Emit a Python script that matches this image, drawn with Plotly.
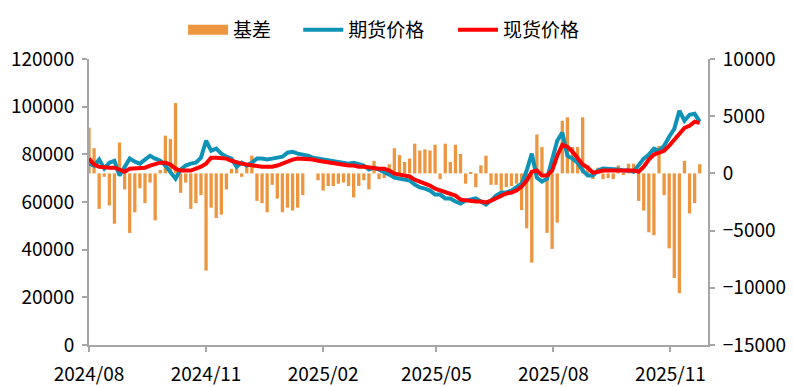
import pandas as pd
import plotly.graph_objects as go

# ---- data (sampled every 4 calendar days from 2024-08-01) ----
start_date = "2024-08-01"
step = "4D"

spot = [78200, 75700, 74800, 74400, 74400, 74400, 73600, 72700, 74000, 74000,
        74000, 74400, 75300, 76100, 76500, 76500, 75700, 74000, 73200, 73200,
        73200, 74000, 74800, 76100, 78600, 78600, 78600, 78200, 77300, 76500,
        76100, 75700, 75300, 75300, 74800, 74800, 74800, 75300, 76100, 77300,
        77800, 78200, 78200, 78200, 77800, 77300, 76900, 76500, 76100, 75700,
        75300, 75300, 75300, 74800, 74800, 74400, 74400, 74000, 74000, 73200,
        71900, 71500, 71500, 70700, 69400, 68600, 67700, 66900, 65600, 64800,
        64000, 63600, 62700, 61000, 60600, 60200, 60200, 60200, 59800, 60600,
        61500, 62700, 63600, 64000, 64800, 66500, 69000, 72700, 73200, 71100,
        71100, 73200, 79400, 84000, 83200, 81100, 78600, 75700, 74400, 72300,
        72700, 73200, 73200, 73200, 73200, 73200, 73600, 73200, 72700, 74800,
        77800, 79900, 80700, 81500, 83600, 86100, 89100, 91100, 92000, 93700,
        93200]

futures = [76100, 75300, 77800, 74000, 76500, 77300, 71100, 74800, 78200, 76900,
           76100, 77800, 79400, 78200, 77300, 75300, 72300, 69800, 73600, 75300,
           76100, 76500, 78600, 85700, 81500, 82400, 80300, 79000, 78200, 74800,
           76500, 75300, 76500, 78200, 78200, 77800, 78200, 78600, 79000, 80700,
           81100, 80300, 79900, 79400, 78600, 78200, 77800, 77300, 76900, 76500,
           76100, 76100, 76500, 76100, 75300, 73600, 74400, 73600, 72700, 71500,
           70200, 69800, 69800, 69000, 67300, 66100, 65600, 64800, 63100, 63100,
           61500, 61500, 60200, 59400, 60600, 61000, 61500, 60200, 58900, 60600,
           62700, 64000, 64000, 64800, 66100, 67700, 73200, 80300, 70200, 68600,
           69800, 77300, 85700, 89100, 79400, 78200, 76500, 73200, 71100, 71100,
           73200, 74000, 74000, 73600, 73600, 73200, 73200, 72700, 75300, 78200,
           79900, 82400, 81500, 83600, 87400, 90700, 98300, 94100, 96600, 97000,
           93700]

basis = [4000, 2200, -3100, -300, -2800, -4400, 2700, -1400, -5200, -3400,
         -1300, -2600, -800, -4100, 300, 3300, 3000, 6150, -1700, -800,
         -3100, -2600, -1900, -8500, -3000, -3900, -3600, -1400, 400, 600,
         -300, 600, 1550, -2400, -2600, -3400, -1000, -2200, -3400, -3000,
         -3250, -3000, -1900, 0, 0, -600, -1500, -1100, -1100, -900,
         -800, -1100, -2100, -1100, -600, -1400, 1100, -500, -400, 800,
         2200, 1600, 1000, 1300, 2600, 2000, 2100, 2000, 2500, -500,
         2600, 1000, 2500, 1700, -900, 100, -1200, 700, 1550, -1000,
         -1000, -1500, -1200, -1100, -900, -3200, -4800, -7800, 3400, 2300,
         -5200, -6600, -4300, 4600, 4900, 2300, 2300, 4900, 700, -500,
         500, -500, -400, -500, 700, -100, 850, 850, -2400, -3250,
         -5150, -5400, 2400, -1900, -6550, -9150, -10470, 1100, -3500, -2600,
         800]

tick_dates = ["2024-08-01", "2024-11-01", "2025-02-01", "2025-05-01", "2025-08-01", "2025-11-01"]
tick_labels = ["2024/08", "2024/11", "2025/02", "2025/05", "2025/08", "2025/11"]

dates = pd.date_range(start_date, periods=len(spot), freq=step)

FONT = "Microsoft YaHei, Noto Sans CJK SC, sans-serif"
AX = "#A6A6A6"
ORANGE = "#ED9640"
BLUE = "#0E93B7"
RED = "#FF0000"

fig = go.Figure()
fig.add_trace(go.Bar(x=dates, y=basis, name="基差", marker_color=ORANGE,
                     marker_line_width=0, yaxis="y", showlegend=False))
# legend entry for the bars drawn as a wide orange patch
fig.add_trace(go.Scatter(x=[None], y=[None], name="基差", mode="lines",
                         line=dict(color=ORANGE, width=14), yaxis="y",
                         legend="legend"))
fig.add_trace(go.Scatter(x=dates, y=futures, name="期货价格", mode="lines",
                         line=dict(color=BLUE, width=4), yaxis="y2",
                         legend="legend2"))
fig.add_trace(go.Scatter(x=dates, y=spot, name="现货价格", mode="lines",
                         line=dict(color=RED, width=4), yaxis="y2",
                         legend="legend3"))

axis_common = dict(showline=True, linecolor=AX, linewidth=2, ticks="outside",
                   tickcolor=AX, ticklen=5, tickwidth=2, showgrid=False,
                   zeroline=False, automargin=False,
                   tickfont=dict(size=19, color="#000000"))

leg_common = dict(orientation="h", y=1.0976, yanchor="middle", xanchor="left",
                  font=dict(size=19), itemwidth=40, bgcolor="rgba(0,0,0,0)")

fig.update_layout(
    width=793, height=387,
    margin=dict(l=89, r=85, t=58, b=42),
    paper_bgcolor="white", plot_bgcolor="white",
    font=dict(family=FONT, size=19, color="#000000"),
    bargap=0.35,
    showlegend=True,
    legend=dict(x=0.152, **leg_common),
    legend2=dict(x=0.338, **leg_common),
    legend3=dict(x=0.588, **leg_common),
    xaxis=dict(type="date", range=["2024-08-01", "2025-11-30 12:00"],
               tickvals=tick_dates, ticktext=tick_labels,
               ticklabelstandoff=6, **axis_common),
    yaxis=dict(side="right", range=[-15000, 10000], dtick=5000, tickformat="d",
               ticklabelstandoff=4, **axis_common),
    yaxis2=dict(side="left", overlaying="y", range=[0, 120000], dtick=20000,
                tickformat="d", ticklabelstandoff=4, **axis_common),
)

fig.write_html("out.html", config={"displayModeBar": False},
               post_script="document.body.style.margin='0';document.body.style.padding='0';")
